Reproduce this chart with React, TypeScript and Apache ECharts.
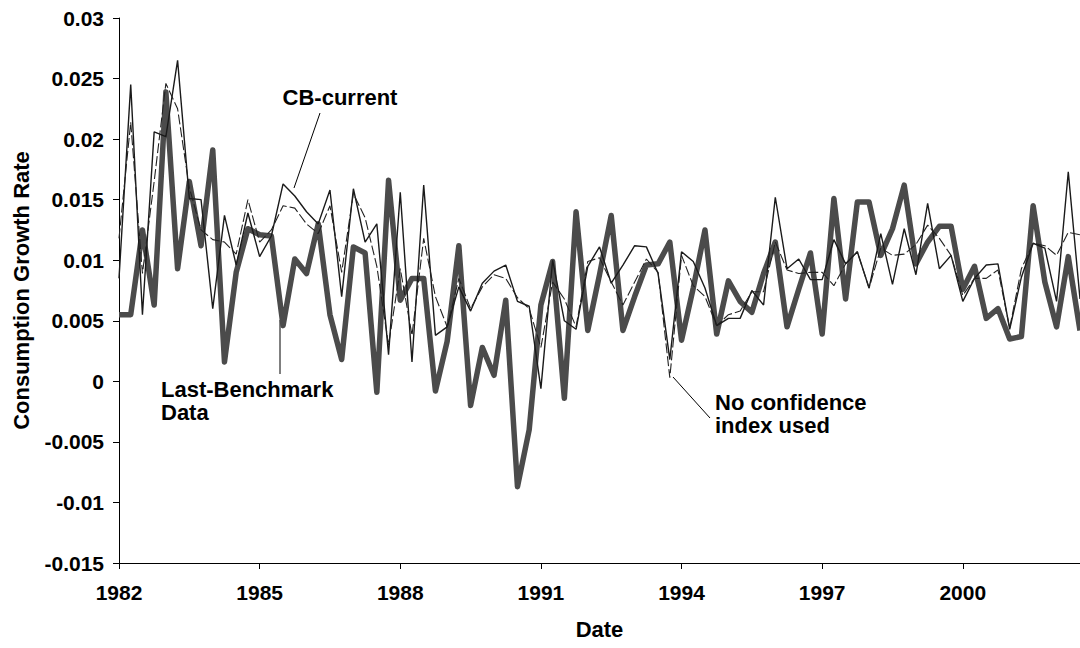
import React, { useEffect, useRef } from "react";
import * as echarts from "echarts";

const years = [1982, 1983, 1984, 1985, 1986, 1987, 1988, 1989, 1990, 1991, 1992, 1993, 1994, 1995, 1996, 1997, 1998, 1999, 2000, 2001, 2002];
const quarterNames = ["Q1", "Q2", "Q3", "Q4"];
const periods = years.flatMap((y) => quarterNames.map((q) => `${y}${q}`)).slice(0, 83);
const tickYears = ["1982", "1985", "1988", "1991", "1994", "1997", "2000"];

const lastBenchmark = [
  0.0055, 0.0055, 0.0125, 0.0063, 0.0239, 0.0093, 0.0165, 0.0112,
  0.0191, 0.0016, 0.009, 0.0126, 0.0121, 0.012, 0.0046, 0.0101,
  0.0089, 0.013, 0.0055, 0.0018, 0.0111, 0.0106, -0.0009, 0.0166,
  0.0067, 0.0085, 0.0085, -0.0008, 0.0033, 0.0112, -0.002, 0.0028,
  0.0005, 0.0067, -0.0087, -0.004, 0.0063, 0.0099, -0.0014, 0.014,
  0.0042, 0.0088, 0.0137, 0.0042, 0.007, 0.0096, 0.0097, 0.0115,
  0.0034, 0.0077, 0.0125, 0.0039, 0.0083, 0.0066, 0.0057, 0.0089,
  0.0115, 0.0045, 0.0076, 0.0106, 0.0039, 0.0151, 0.0068, 0.0148,
  0.0148, 0.0104, 0.0126, 0.0162, 0.0097, 0.0115, 0.0128, 0.0128,
  0.0076, 0.0095, 0.0052, 0.006, 0.0035, 0.0037, 0.0145, 0.0082,
  0.0045, 0.0103, 0.0042,
];

const cbCurrent = [
  0.0085, 0.0245, 0.0055, 0.0206, 0.0202, 0.0265, 0.0151, 0.015,
  0.006, 0.0137, 0.0096, 0.0139, 0.0103, 0.012, 0.0163, 0.0153,
  0.014, 0.013, 0.0158, 0.007, 0.0159, 0.0115, 0.013, 0.0022,
  0.0156, 0.0016, 0.0162, 0.0038, 0.0045, 0.0078, 0.0058, 0.0081,
  0.0091, 0.0096, 0.0066, 0.0062, -0.0006, 0.01, 0.005, 0.0043,
  0.0095, 0.0111, 0.0081, 0.0096, 0.0112, 0.0111, 0.0089, 0.0018,
  0.0107, 0.0099, 0.0077, 0.0046, 0.0052, 0.0052, 0.0075, 0.0063,
  0.0152, 0.0093, 0.0101, 0.0084, 0.0084, 0.0117, 0.0097, 0.0107,
  0.0077, 0.0122, 0.008, 0.0126, 0.0088, 0.0147, 0.0093, 0.0104,
  0.0066, 0.0085, 0.0096, 0.0097, 0.0043, 0.0086, 0.0114, 0.011,
  0.0066, 0.0173, 0.0068,
];

const noConfidence = [
  0.0118, 0.0214, 0.0089, 0.0165, 0.0246, 0.0225, 0.016, 0.0125,
  0.0117, 0.0115, 0.0105, 0.015, 0.0115, 0.0125, 0.0145, 0.0143,
  0.013, 0.0122, 0.0145, 0.009, 0.0155, 0.0135, 0.0095, 0.003,
  0.0093, 0.0038, 0.0118, 0.007, 0.0045, 0.0085, 0.006, 0.0078,
  0.0088, 0.0085, 0.0069, 0.006, 0.0028, 0.0082, 0.0068, 0.0045,
  0.0099, 0.0102, 0.0082, 0.0063, 0.0082, 0.0101, 0.009, 0.0003,
  0.0104, 0.0079, 0.007, 0.0046, 0.0055, 0.0058, 0.0074, 0.0074,
  0.0115, 0.0092, 0.0089, 0.009, 0.009, 0.0079, 0.0097, 0.0107,
  0.0077, 0.011, 0.0104, 0.0105, 0.0113, 0.0129, 0.0118, 0.0104,
  0.0071, 0.0085, 0.0085, 0.0092, 0.0044, 0.0093, 0.0114, 0.0112,
  0.0104, 0.0123, 0.0121,
];

const FONT = "'Liberation Sans', Arial, sans-serif";
const FS = 21;
const FS_NOTE = 22;
const isTick = (v: string) => v.endsWith("Q1") && tickYears.includes(v.slice(0, 4));

export default function App() {
  const ref = useRef<HTMLDivElement>(null);
  useEffect(() => {
    const chart = echarts.init(ref.current as HTMLDivElement, null, { renderer: "svg" });
    const labelStyle = { fontFamily: FONT, fontWeight: "bold" as const, fontSize: FS, color: "#000" };
    const titleStyle = { ...labelStyle, fontSize: FS_NOTE };
    chart.setOption({
      animation: false,
      backgroundColor: "#fff",
      grid: { left: 119, top: 18, right: 0, bottom: 85, containLabel: false },
      xAxis: {
        type: "category",
        data: periods,
        boundaryGap: false,
        axisLine: { show: true, onZero: false, lineStyle: { color: "#000", width: 1 } },
        axisTick: { show: true, length: 6, interval: (_i: number, v: string) => isTick(v), lineStyle: { color: "#000" } },
        axisLabel: {
          ...labelStyle,
          interval: (_i: number, v: string) => isTick(v),
          formatter: (v: string) => v.slice(0, 4),
          margin: 19,
        },
        splitLine: { show: false },
        name: "Date",
        nameLocation: "middle",
        nameGap: 55,
        nameTextStyle: titleStyle,
      },
      yAxis: {
        type: "value",
        min: -0.015,
        max: 0.03,
        interval: 0.005,
        axisLine: { show: true, onZero: false, lineStyle: { color: "#000", width: 1 } },
        axisTick: { show: true, length: 6, lineStyle: { color: "#000" } },
        axisLabel: { ...labelStyle, margin: 15, formatter: (v: number) => String(+v.toFixed(3)) },
        splitLine: { show: false },
        name: "Consumption Growth Rate",
        nameLocation: "middle",
        nameRotate: 90,
        nameGap: 87,
        nameTextStyle: titleStyle,
      },
      series: [
        {
          name: "Last-Benchmark Data",
          type: "line",
          data: lastBenchmark,
          symbol: "none",
          lineStyle: { color: "#4b4b4b", width: 5.5, join: "round" },
          z: 1,
        },
        {
          name: "CB-current",
          type: "line",
          data: cbCurrent,
          symbol: "none",
          lineStyle: { color: "#1a1a1a", width: 1.4 },
          z: 2,
        },
        {
          name: "No confidence index used",
          type: "line",
          data: noConfidence,
          symbol: "none",
          lineStyle: { color: "#222", width: 1.1, type: [10, 3] },
          z: 3,
        },
      ],
      graphic: [
        { type: "text", x: 340, y: 97, style: { text: "CB-current", font: `bold ${FS_NOTE}px ${FONT}`, fill: "#000", align: "center", verticalAlign: "middle" } },
        { type: "line", shape: { x1: 320, y1: 113, x2: 294, y2: 188 }, style: { stroke: "#000", lineWidth: 1 } },
        { type: "text", x: 161, y: 378, style: { text: "Last-Benchmark\nData", font: `bold ${FS_NOTE}px ${FONT}`, fill: "#000", lineHeight: 23 } },
        { type: "line", shape: { x1: 280, y1: 320, x2: 280, y2: 374 }, style: { stroke: "#000", lineWidth: 1 } },
        { type: "text", x: 715, y: 391, style: { text: "No confidence\nindex used", font: `bold ${FS_NOTE}px ${FONT}`, fill: "#000", lineHeight: 23 } },
        { type: "line", shape: { x1: 673, y1: 377, x2: 710, y2: 418 }, style: { stroke: "#000", lineWidth: 1 } },
      ],
    });
    return () => chart.dispose();
  }, []);
  return (
    <div
      ref={ref}
      style={{ position: "absolute", left: 0, top: 0, width: 1080, height: 648, background: "#fff" }}
    />
  );
}
